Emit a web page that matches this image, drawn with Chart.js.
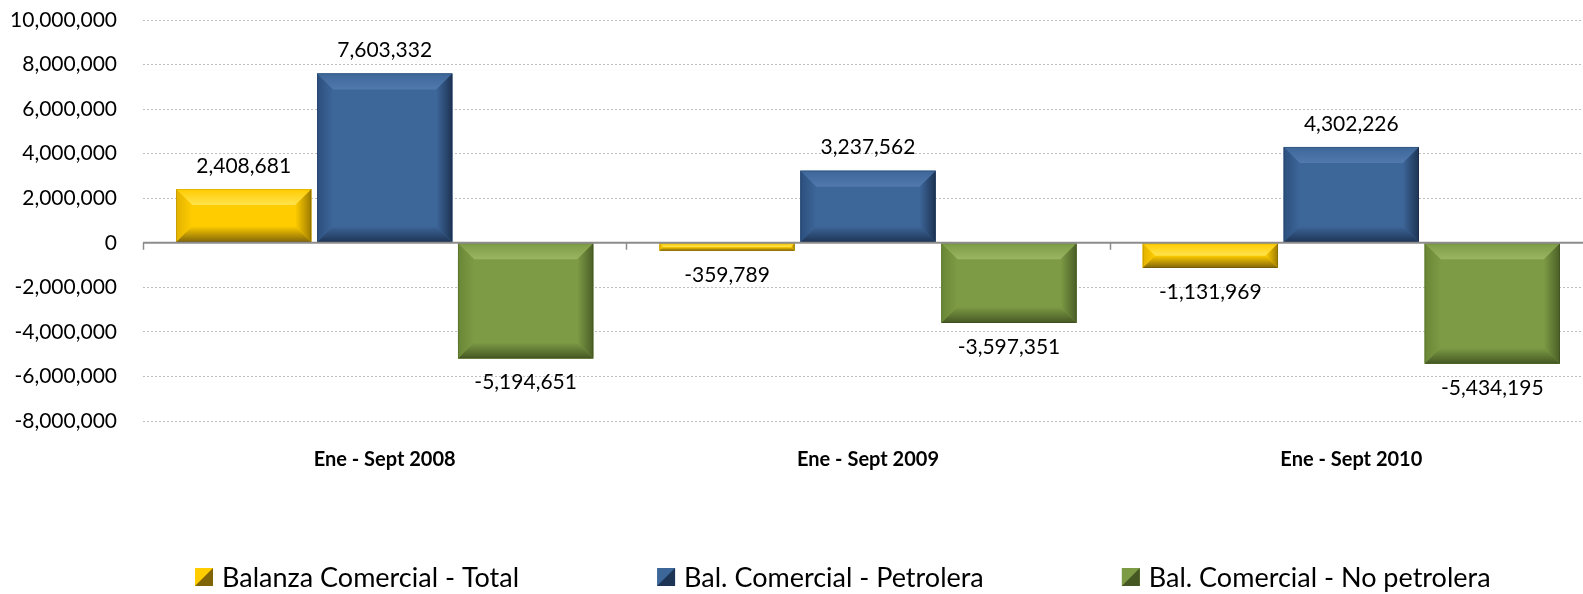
<!DOCTYPE html>
<html>
<head>
<meta charset="utf-8">
<script src="https://cdn.jsdelivr.net/npm/chart.js@4.4.1/dist/chart.umd.min.js"></script>
<style>
  html, body { margin: 0; padding: 0; background: #fff; overflow: hidden; }
  #wrap { width: 1593px; height: 594px; position: relative; }
</style>
</head>
<body>
<div id="wrap"><canvas id="balanza"></canvas></div>
<script>
const categories = ['Ene - Sept 2008', 'Ene - Sept 2009', 'Ene - Sept 2010'];
const seriesNames = ['Balanza Comercial - Total', 'Bal. Comercial - Petrolera', 'Bal. Comercial - No petrolera'];
const balanzaTotal = [2408681, -359789, -1131969];
const balPetrolera = [7603332, 3237562, 4302226];
const balNoPetrolera = [-5194651, -3597351, -5434195];
const yMin = -8000000;
const yMax = 10000000;
const yStep = 2000000;

const FONT = 'Lato, "Open Sans", sans-serif';

// bevel colours per series (face, top, left, right, bottom)
const bevels = [
  { face: '#FFCC00', top: '#FFE34F', left: '#E2B200', right: '#9C7B00', bottom: '#806508' },
  { face: '#3D6699', top: '#5179AD', left: '#2C4F7D', right: '#1D3353', bottom: '#1E3455' },
  { face: '#7D9B45', top: '#9AB563', left: '#698636', right: '#4A5E26', bottom: '#455823' },
];

const fmt = (v) => v.toLocaleString('en-US');

// draws the bevelled look on top of each bar
const bevelPlugin = {
  id: 'bevel',
  afterDatasetsDraw(chart) {
    const ctx = chart.ctx;
    chart.data.datasets.forEach((ds, di) => {
      const c = bevels[di];
      chart.getDatasetMeta(di).data.forEach((bar) => {
        const l = bar.x - bar.width / 2, r = bar.x + bar.width / 2;
        const t = Math.min(bar.y, bar.base), b = Math.max(bar.y, bar.base);
        const h = b - t;
        const s = Math.min(16, h / 2, bar.width / 2);
        ctx.save();
        ctx.fillStyle = c.face;
        ctx.fillRect(l, t, r - l, h);
        const poly = (pts, col) => {
          ctx.beginPath();
          ctx.moveTo(pts[0][0], pts[0][1]);
          pts.slice(1).forEach(p => ctx.lineTo(p[0], p[1]));
          ctx.closePath();
          ctx.fillStyle = col;
          ctx.fill();
        };
        const grad = (x0, y0, x1, y1, a, bcol) => {
          const g = ctx.createLinearGradient(x0, y0, x1, y1);
          g.addColorStop(0, a);
          g.addColorStop(1, bcol);
          return g;
        };
        poly([[l, t], [r, t], [r - s, t + s], [l + s, t + s]], grad(0, t, 0, t + s, c.face, c.top));
        poly([[l, t], [l + s, t + s], [l + s, b - s], [l, b]], grad(l, 0, l + s, 0, c.left, c.face));
        poly([[r, t], [r, b], [r - s, b - s], [r - s, t + s]], grad(r, 0, r - s, 0, c.right, c.face));
        poly([[l, b], [l + s, b - s], [r - s, b - s], [r, b]], grad(0, b, 0, b - s, c.bottom, c.face));
        ctx.strokeStyle = 'rgba(0,0,0,0.12)';
        ctx.lineWidth = 1;
        ctx.strokeRect(l + 0.5, t + 0.5, r - l - 1, h - 1);
        ctx.restore();
      });
    });
  },
  afterDraw(chart) {
    const ctx = chart.ctx;
    const x = chart.scales.x, y = chart.scales.y;
    const zero = y.getPixelForValue(0);
    ctx.save();
    // zero axis line with category tick marks
    ctx.strokeStyle = '#8C8C8C';
    ctx.lineWidth = 2;
    ctx.beginPath();
    ctx.moveTo(x.left, zero); ctx.lineTo(x.right, zero);
    ctx.stroke();
    ctx.lineWidth = 1.5;
    const n = categories.length;
    for (let i = 0; i <= n; i++) {
      const px = Math.round(x.left + i * x.width / n) + 0.5;
      ctx.beginPath();
      ctx.moveTo(px, zero); ctx.lineTo(px, zero + 7);
      ctx.stroke();
    }
    // value labels
    ctx.fillStyle = '#000';
    ctx.font = '21px ' + FONT;
    ctx.textAlign = 'center';
    ctx.textBaseline = 'middle';
    chart.data.datasets.forEach((ds, di) => {
      chart.getDatasetMeta(di).data.forEach((bar, i) => {
        const v = ds.data[i];
        const ty = v >= 0 ? bar.y - 23 : bar.y + 24;
        ctx.fillText(fmt(v), bar.x, ty);
      });
    });
    // legend
    ctx.font = '27px ' + FONT;
    ctx.textAlign = 'left';
    let lx = 195;
    const ly = chart.height - 17;
    chart.data.datasets.forEach((ds, di) => {
      const c = bevels[di];
      const bs = 18;
      const bx = lx, by = ly - bs / 2;
      ctx.fillStyle = c.face;
      ctx.fillRect(bx, by, bs, bs);
      ctx.fillStyle = c.bottom;
      ctx.beginPath();
      ctx.moveTo(bx + bs, by); ctx.lineTo(bx + bs, by + bs); ctx.lineTo(bx, by + bs);
      ctx.closePath(); ctx.fill();
      ctx.fillStyle = '#000';
      ctx.fillText(ds.label, bx + bs + 9, ly + 1);
      lx = bx + bs + 9 + ctx.measureText(ds.label).width + 138;
    });
    ctx.restore();
  }
};

new Chart(document.getElementById('balanza'), {
  type: 'bar',
  data: {
    labels: categories,
    datasets: [
      { label: seriesNames[0], data: balanzaTotal, backgroundColor: bevels[0].face },
      { label: seriesNames[1], data: balPetrolera, backgroundColor: bevels[1].face },
      { label: seriesNames[2], data: balNoPetrolera, backgroundColor: bevels[2].face },
    ],
  },
  options: {
    responsive: true,
    maintainAspectRatio: false,
    animation: false,
    datasets: {
      bar: {
        categoryPercentage: 0.875,
        barPercentage: 0.96,
      },
    },
    layout: {
      padding: { left: 10, top: 20, right: 0, bottom: 113 },
    },
    plugins: {
      legend: { display: false },
      tooltip: { enabled: false },
    },
    scales: {
      x: {
        grid: { display: false },
        border: { display: false },
        afterFit: (scale) => { scale.height = 60; },
        ticks: {
          color: '#000',
          padding: 19,
          font: { family: FONT, size: 20, weight: 'bold' },
        },
      },
      y: {
        min: yMin,
        max: yMax,
        afterFit: (scale) => { scale.width = 133; },
        grid: {
          color: '#BFBFBF',
          drawTicks: true,
          tickLength: 26,
          tickColor: 'rgba(0,0,0,0)',
        },
        border: { display: false, dash: [2, 2] },
        ticks: {
          stepSize: yStep,
          color: '#000',
          padding: 0,
          font: { family: FONT, size: 21 },
          callback: (v) => fmt(v),
        },
      },
    },
  },
  plugins: [bevelPlugin],
});
</script>
</body>
</html>
